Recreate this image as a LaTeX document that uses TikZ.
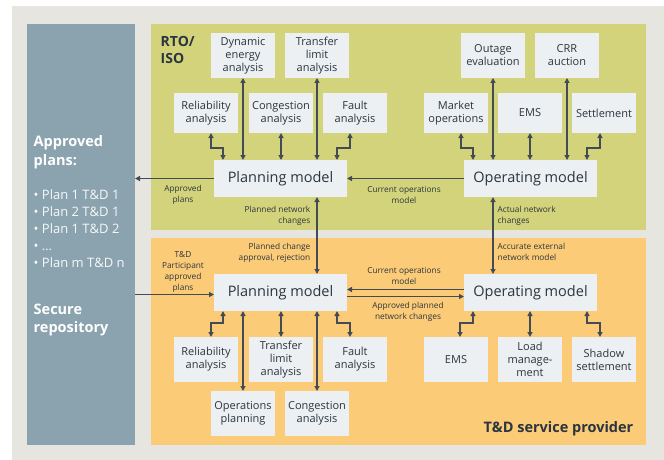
\documentclass[tikz,border=0pt]{standalone}
\usepackage{fontspec}
\setmainfont{Open Sans}
\usetikzlibrary{arrows.meta, calc}
\definecolor{cbg}{HTML}{E6E5DF}
\definecolor{crepo}{HTML}{8BA3AF}
\definecolor{cgreen}{HTML}{D3D37B}
\definecolor{corange}{HTML}{FCCB78}
\definecolor{cbox}{HTML}{ECF0F3}
\definecolor{cline}{HTML}{434C55}
\definecolor{ctext}{HTML}{2B353E}
\tikzset{
  every picture/.style={line width=1.4pt},
  panel/.style={fill=#1, inner sep=0pt, outer sep=0pt},
  box/.style={fill=cbox, align=center, inner sep=1pt, outer sep=0pt, minimum width=64pt, minimum height=#1, font=\fontsize{11}{13}\selectfont, text=ctext},
  box/.default=45pt,
  model/.style={fill=cbox, inner sep=1pt, outer sep=0pt, minimum width=133pt, minimum height=37pt, font=\fontsize{14.5}{16}\selectfont, text=ctext},
  link/.style={{Triangle[length=5pt,width=5pt]}-{Triangle[length=5pt,width=5pt]}, draw=cline, line width=1.4pt},
  arrow/.style={-{Triangle[length=5pt,width=5pt]}, draw=cline, line width=1.4pt},
  note/.style={font=\fontsize{8.3}{11}\selectfont, text=ctext, align=center, inner sep=0pt},
  title/.style={font=\fontsize{14.5}{17}\selectfont\bfseries, text=ctext, align=left, inner sep=0pt},
  repohead/.style={font=\fontsize{14.5}{18.5}\selectfont\bfseries, text=white, align=left, inner sep=0pt},
  repolist/.style={font=\fontsize{13}{17}\selectfont, text=white!92!crepo, align=left, inner sep=0pt},
}

\begin{document}
\begin{tikzpicture}[x=1pt, y=-1pt]
  \useasboundingbox (0,0) rectangle (664,460);
  \fill[cbg] (12,6) rectangle (664,460);
  % ---------- panels ----------
  \node[panel=crepo, minimum width=108pt, minimum height=421pt] (repo) at (81,234.5) {};
  \node[panel=cgreen, minimum width=495pt, minimum height=206pt] (rto) at (398.5,127) {};
  \node[panel=corange, minimum width=495pt, minimum height=207pt] (tdsp) at (398.5,341.5) {};
  \node[title, anchor=west, font=\fontsize{14}{17}\selectfont\bfseries] (rtolbl) at (160,50) {RTO/\\ISO};
  \node[title, anchor=east] (tdlbl) at (634,429) {T\&D service provider};
  % ---------- secure repository ----------
  \node[repohead, anchor=west] (aplhead) at (33,152) {Approved\\plans:};
  \node[repolist, anchor=west] (apllist) at (33,229) {• Plan 1 T\&D 1\\• Plan 2 T\&D 1\\• Plan 1 T\&D 2\\• …\\• Plan m T\&D n};
  \node[repohead, anchor=west] (secure) at (33,320) {Secure\\repository};
  % ---------- RTO/ISO ----------
  \node[box] (dyn) at (243,55.5) {Dynamic\\energy\\analysis};
  \node[box] (tlim) at (317,55.5) {Transfer\\limit\\analysis};
  \node[box] (outage) at (493,55.5) {Outage\\evaluation};
  \node[box] (crr) at (567,55.5) {CRR\\auction};
  \node[box=40pt] (rel) at (206,113) {Reliability\\analysis};
  \node[box=40pt] (cong) at (281,113) {Congestion\\analysis};
  \node[box=40pt] (fault) at (355,113) {Fault\\analysis};
  \node[box=40pt] (mkt) at (456,113) {Market\\operations};
  \node[box=40pt] (ems) at (530,113) {EMS};
  \node[box=40pt] (settle) at (604,113) {Settlement};
  \node[model] (plan) at (280.5,178.5) {Planning model};
  \node[model] (oper) at (530.5,178.5) {Operating model};
  \foreach \b in {dyn, tlim, cong}
    \draw[link] (\b.south) -- (\b.south |- plan.north);
  \foreach \b in {outage, ems, crr}
    \draw[link] (\b.south) -- (\b.south |- oper.north);
  \draw[link] ([xshift=5pt]rel.south) -- ++(0,15) -| ([xshift=9pt]plan.north west);
  \draw[link] ([xshift=-5pt]fault.south) -- ++(0,15) -| ([xshift=-10pt]plan.north east);
  \draw[link] ([xshift=5pt]mkt.south) -- ++(0,15) -| ([xshift=9pt]oper.north west);
  \draw[link] ([xshift=-4pt]settle.south) -- ++(0,15) -| ([xshift=-10pt]oper.north east);
  \draw[arrow] (plan.west) -- (plan.west -| repo.east);
  \draw[arrow] (oper.west) -- (plan.east);
  \node[note] (napl) at (183,194.5) {Approved\\plans};
  \node[note] (ncur) at (404,194.5) {Current operations\\model};
  % ---------- T&D service provider ----------
  \node[model] (plan2) at (280.5,292.5) {Planning model};
  \node[model] (oper2) at (530.5,292.5) {Operating model};
  \node[box] (rel2) at (206,359.5) {Reliability\\analysis};
  \node[box] (tlim2) at (281,359.5) {Transfer\\limit\\analysis};
  \node[box] (fault2) at (355,359.5) {Fault\\analysis};
  \node[box] (ems2) at (456,359.5) {EMS};
  \node[box] (load2) at (530,359.5) {Load\\manage-\\ment};
  \node[box] (shadow2) at (604,359.5) {Shadow\\settlement};
  \node[box] (opsplan) at (243,413.5) {Operations\\planning};
  \node[box] (cong2) at (317,413.5) {Congestion\\analysis};
  \foreach \b in {opsplan, tlim2, cong2}
    \draw[link] (\b.north |- plan2.south) -- (\b.north);
  \draw[link] (load2.north |- oper2.south) -- (load2.north);
  \draw[link] ([xshift=9pt]plan2.south west) -- ++(0,12) -| ([xshift=5pt]rel2.north);
  \draw[link] ([xshift=-10pt]plan2.south east) -- ++(0,12) -| ([xshift=-5pt]fault2.north);
  \draw[link] ([xshift=9pt]oper2.south west) -- ++(0,12) -| ([xshift=4pt]ems2.north);
  \draw[link] ([xshift=-10pt]oper2.south east) -- ++(0,12) -| ([xshift=-4pt]shadow2.north);
  \draw[arrow] ([yshift=-2pt]plan2.west -| repo.east) -- ([yshift=-2pt]plan2.west);
  \draw[arrow] ([yshift=3pt]oper2.west) -- ([yshift=3pt]plan2.east);
  \draw[arrow] ([yshift=-4pt]plan2.east) -- ([yshift=-4pt]oper2.west);
  \node[note] (npart) at (183,271.5) {T\&D\\Participant\\approved\\plans};
  \node[note] (ncur2) at (404,275.5) {Current operations\\model};
  \node[note] (nappr) at (408,311.5) {Approved planned\\network changes};
  % ---------- between the two ----------
  \draw[link] ([xshift=-30pt]plan.south east) -- ([xshift=-30pt]plan2.north east);
  \draw[link] ([xshift=29pt]oper.south west) -- ([xshift=29pt]oper2.north west);
  \node[note, anchor=east, align=right] (nplan) at (311,215.5) {Planned network\\changes};
  \node[note, anchor=east, align=right] (nchg) at (311,252.5) {Planned change\\approval, rejection};
  \node[note, anchor=west, align=left] (nact) at (497,215.5) {Actual network\\changes};
  \node[note, anchor=west, align=left] (nacc) at (497,252) {Accurate external\\network model};
\end{tikzpicture}
\end{document}
